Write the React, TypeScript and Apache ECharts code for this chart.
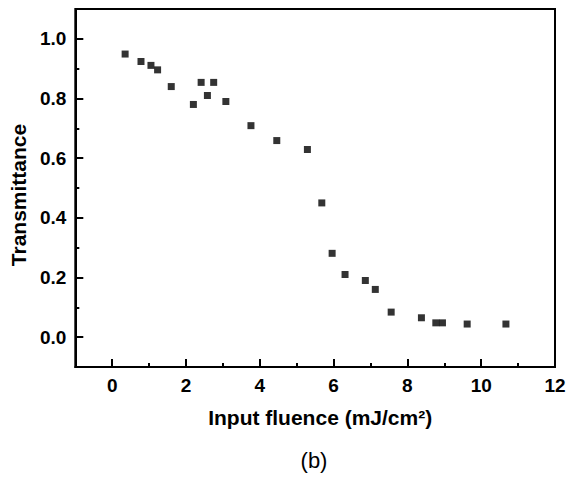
import React, { useEffect, useRef } from "react";
import * as echarts from "echarts";

const fluence: number[] = [0.35, 0.78, 1.05, 1.23, 1.6, 2.2, 2.41, 2.58, 2.75, 3.08, 3.76, 4.46, 5.29, 5.68, 5.96, 6.31, 6.86, 7.13, 7.56, 8.38, 8.77, 8.95, 9.62, 10.67];
const transmittance: number[] = [0.949, 0.924, 0.911, 0.896, 0.84, 0.78, 0.854, 0.81, 0.854, 0.79, 0.709, 0.659, 0.629, 0.45, 0.281, 0.21, 0.19, 0.16, 0.084, 0.065, 0.048, 0.048, 0.044, 0.044];

const xMin = -1;
const xMax = 12;
const yMin = -0.1;
const yMax = 1.1;
const xTickSlots: string[] = ["-1", "0", "1", "2", "3", "4", "5", "6", "7", "8", "9", "10", "11", "12"];
const yTickSlots: string[] = ["-0.1", "0.0", "0.1", "0.2", "0.3", "0.4", "0.5", "0.6", "0.7", "0.8", "0.9", "1.0", "1.1"];

const xName = "Input fluence (mJ/cm²)";
const yName = "Transmittance";
const caption = "(b)";

const FONT = "'Liberation Sans', Arial, Helvetica, sans-serif";

export default function App() {
  const ref = useRef<HTMLDivElement>(null);
  useEffect(() => {
    if (!ref.current) return;
    const chart = echarts.init(ref.current, undefined, { renderer: "svg" });
    const black = "#000";
    const labelStyle = { color: black, fontFamily: FONT, fontWeight: "bold" as const, fontSize: 19 };
    const isEvenTenth = (v: string | number) => Math.round(Number(v) * 10) % 2 === 0;
    chart.setOption({
      animation: false,
      backgroundColor: "#fff",
      grid: {
        left: 73,
        right: 17,
        top: 9,
        bottom: 112,
        show: true,
        borderColor: black,
        borderWidth: 2,
        backgroundColor: "transparent",
      },
      xAxis: [
        {
          type: "value",
          position: "bottom",
          min: xMin,
          max: xMax,
          interval: 1,
          name: xName,
          nameLocation: "middle",
          nameGap: 40,
          nameTextStyle: { color: black, fontFamily: FONT, fontWeight: "bold", fontSize: 21, padding: [0, 0, 0, 10] },
          axisLine: { show: true, onZero: false, lineStyle: { color: black, width: 2 } },
          axisTick: { show: true, inside: true, length: 4, lineStyle: { color: black, width: 2 } },
          axisLabel: {
            ...labelStyle,
            margin: 9,
            formatter: (v: number) => (Math.round(v) % 2 === 0 ? String(Math.round(v)) : ""),
          },
          splitLine: { show: false },
        },
        {
          type: "category",
          position: "bottom",
          boundaryGap: false,
          data: xTickSlots,
          axisLine: { show: false, onZero: false },
          axisTick: {
            show: true,
            inside: true,
            length: 8,
            interval: (_i: number, v: string) => Number(v) % 2 === 0,
            lineStyle: { color: black, width: 2 },
          },
          axisLabel: { show: false },
          splitLine: { show: false },
        },
      ],
      yAxis: [
        {
          type: "value",
          position: "left",
          min: yMin,
          max: yMax,
          interval: 0.1,
          name: yName,
          nameLocation: "middle",
          nameGap: 40,
          nameTextStyle: { color: black, fontFamily: FONT, fontWeight: "bold", fontSize: 21, padding: [0, 14, 0, 0] },
          axisLine: { show: true, onZero: false, lineStyle: { color: black, width: 2 } },
          axisTick: { show: true, inside: true, length: 4, lineStyle: { color: black, width: 2 } },
          axisLabel: {
            ...labelStyle,
            margin: 9,
            formatter: (v: number) => (isEvenTenth(v) ? (Math.round(v * 10) / 10).toFixed(1) : ""),
          },
          splitLine: { show: false },
        },
        {
          type: "category",
          position: "left",
          boundaryGap: false,
          data: yTickSlots,
          axisLine: { show: false, onZero: false },
          axisTick: {
            show: true,
            inside: true,
            length: 8,
            interval: (_i: number, v: string) => isEvenTenth(v),
            lineStyle: { color: black, width: 2 },
          },
          axisLabel: { show: false },
          splitLine: { show: false },
        },
      ],
      series: [
        {
          type: "scatter",
          xAxisIndex: 0,
          yAxisIndex: 0,
          symbol: "rect",
          symbolSize: 7,
          itemStyle: { color: black },
          data: fluence.map((x, i) => [x, transmittance[i]]),
        },
      ],
      graphic: [
        {
          type: "text",
          x: 314,
          y: 460,
          style: {
            text: caption,
            fill: black,
            font: `normal 22px ${FONT}`,
            textAlign: "center",
            textVerticalAlign: "middle",
          },
        },
      ],
    });
    return () => chart.dispose();
  }, []);
  return (
    <div
      ref={ref}
      style={{ position: "absolute", left: 0, top: 0, width: 572, height: 479, background: "#fff" }}
    />
  );
}
